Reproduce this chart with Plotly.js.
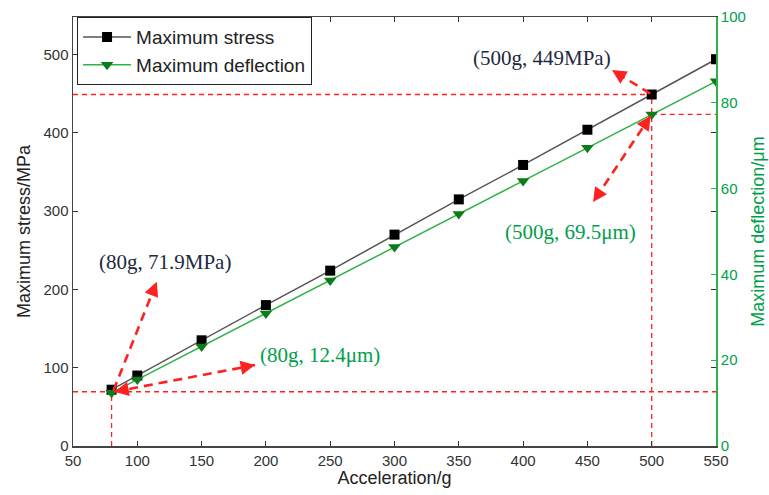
<!DOCTYPE html>
<html>
<head>
<meta charset="utf-8">
<script src="https://cdn.plot.ly/plotly-3.0.1.min.js"></script>
<style>html,body{margin:0;padding:0;background:#fff;}#chart{width:769px;height:495px;}</style>
</head>
<body>
<div id="chart"></div>
<script>
// Data
var acceleration = [80, 100, 150, 200, 250, 300, 350, 400, 450, 500, 550];
var maxStress = [71.9, 90, 135, 180, 224, 270, 315, 359, 404, 449, 494];
var maxDeflection = [12.4, 15.5, 23.2, 30.9, 38.6, 46.4, 54.1, 61.8, 69.5, 77.3, 85.0];
var xTicks = [50, 100, 150, 200, 250, 300, 350, 400, 450, 500, 550];
var stressTicks = [0, 100, 200, 300, 400, 500];
var deflTicks = [0, 20, 40, 60, 80, 100];

var GREEN = '#2fb24a';
var TXTGREEN = '#00a04a';
var RED = '#ff2020';

var traces = [
  {
    x: acceleration, y: maxStress, name: 'Maximum stress', type: 'scatter', mode: 'lines+markers',
    line: {color: '#555555', width: 1.5},
    marker: {symbol: 'square', size: 10, color: '#000000'},
    yaxis: 'y'
  },
  {
    x: acceleration, y: maxDeflection, name: 'Maximum deflection', type: 'scatter', mode: 'lines+markers',
    line: {color: GREEN, width: 1.5},
    marker: {symbol: 'triangle-down', size: 11, color: '#0a7d1a'},
    yaxis: 'y2'
  }
];

var dash = {color: RED, width: 1.3, dash: '5px,4px'};
var shapes = [
  {type: 'line', xref: 'x', yref: 'y', x0: 50, x1: acceleration[9], y0: maxStress[9], y1: maxStress[9], line: dash, layer: 'below'},
  {type: 'line', xref: 'x', yref: 'y', x0: acceleration[9], x1: acceleration[9], y0: 0, y1: maxStress[9], line: dash, layer: 'below'},
  {type: 'line', xref: 'x', yref: 'y2', x0: acceleration[9], x1: 550, y0: maxDeflection[9], y1: maxDeflection[9], line: dash, layer: 'below'},
  {type: 'line', xref: 'x', yref: 'y2', x0: 50, x1: 550, y0: 12.65, y1: 12.65, line: dash, layer: 'below'},
  {type: 'line', xref: 'x', yref: 'y2', x0: acceleration[0], x1: acceleration[0], y0: 0, y1: 12.65, line: dash, layer: 'below'}
];

function arrow(tx, ty, hx, hy, side) {
  return {
    xref: 'x', yref: 'y', axref: 'x', ayref: 'y',
    x: hx, y: hy, ax: tx, ay: ty, text: '', showarrow: true,
    arrowhead: 2, arrowsize: 1.1, arrowwidth: 2.6, arrowcolor: RED, arrowside: side || 'end',
    standoff: 0, startstandoff: 0
  };
}
function label(x, y, text, color) {
  return {xref: 'x', yref: 'y', x: x, y: y, text: text, showarrow: false,
    font: {family: 'Liberation Serif, Times New Roman, serif', size: 21, color: color}};
}

var annotations = [
  arrow(81, 69, 115.1, 209.8),
  arrow(81, 69, 191.5, 103.4, 'end+start'),
  arrow(500, 449, 469.1, 480.2),
  arrow(500, 423.6, 454.4, 311.6, 'end+start'),
  label(121.5, 235.4, '(80g, 71.9MPa)', '#1e2a40'),
  label(414.5, 495.5, '(500g, 449MPa)', '#1e2a40'),
  label(242, 116.2, '(80g, 12.4μm)', TXTGREEN),
  label(436.5, 273.3, '(500g, 69.5μm)', TXTGREEN)
];

var layout = {
  width: 769, height: 495,
  margin: {l: 73, r: 53, t: 17, b: 49},
  paper_bgcolor: '#ffffff', plot_bgcolor: '#ffffff',
  font: {family: 'Arial, Liberation Sans, sans-serif', size: 15, color: '#333333'},
  showlegend: true,
  legend: {x: 0.006, y: 1, xanchor: 'left', yanchor: 'top', bgcolor: '#ffffff', bordercolor: '#222222', borderwidth: 1.2,
    font: {size: 19, color: '#222222'}, tracegroupgap: 0, itemwidth: 48},
  xaxis: {
    range: [50, 550], tickvals: xTicks, ticktext: xTicks.map(String), ticks: 'inside', ticklen: 5, tickcolor: '#333',
    showline: true, linecolor: '#444444', linewidth: 1.5, mirror: 'ticks', showgrid: false, zeroline: false,
    tickfont: {size: 15, color: '#333'},
    title: {text: 'Acceleration/g', font: {size: 18, color: '#222'}, standoff: 2}
  },
  yaxis: {
    range: [0, 548], tickvals: stressTicks, ticktext: stressTicks.map(String), ticks: 'inside', ticklen: 5, tickcolor: '#333',
    showline: true, linecolor: '#444444', linewidth: 1.5, mirror: 'ticks', showgrid: false, zeroline: false,
    tickfont: {size: 15, color: '#333'},
    title: {text: 'Maximum stress/MPa', font: {size: 18, color: '#222'}, standoff: 8}
  },
  yaxis2: {
    range: [0, 100], overlaying: 'y', side: 'right', tickvals: deflTicks, ticktext: deflTicks.map(String),
    ticks: 'inside', ticklen: 5, tickcolor: GREEN,
    showline: true, linecolor: GREEN, linewidth: 1.8, showgrid: false, zeroline: false,
    tickfont: {size: 15, color: TXTGREEN},
    title: {text: 'Maximum deflection/μm', font: {size: 18, color: TXTGREEN}, standoff: 6}
  },
  shapes: shapes,
  annotations: annotations
};

Plotly.newPlot('chart', traces, layout, {displayModeBar: false, staticPlot: true}).then(function () {
  document.querySelectorAll('.annotation-arrow-g path').forEach(function (p) {
    if (p.getAttribute('d') && p.getAttribute('d').indexOf('L') > -1 && (!p.style.fill || p.style.fill === 'none')) {
      p.style.strokeDasharray = '9px,6px';
    }
  });
});
</script>
</body>
</html>
